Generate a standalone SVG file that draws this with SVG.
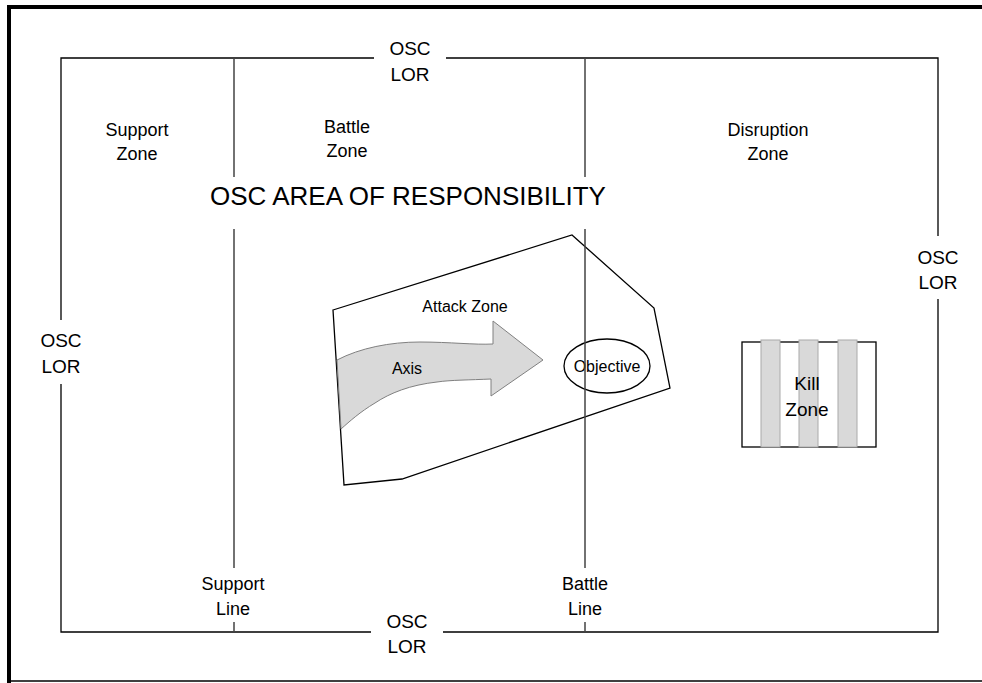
<svg xmlns="http://www.w3.org/2000/svg" width="982" height="683" viewBox="0 0 982 683">
<style>
.t{font-family:"Liberation Sans",Arial,sans-serif;fill:#000;text-anchor:middle}
.l{font-size:18px}
.o{font-size:19px}
.s{font-size:16px}
.ln{stroke:#000;stroke-width:1.3;fill:none}
.v{stroke:#444;stroke-width:1.5;fill:none}
</style>
<rect width="982" height="683" fill="#fff"/>
<g id="frame">
<line x1="7" y1="7" x2="982" y2="7" stroke="#000" stroke-width="4"/>
<line x1="9" y1="5" x2="9" y2="683" stroke="#000" stroke-width="4"/>
<line x1="7" y1="681" x2="982" y2="681" stroke="#000" stroke-width="1.5"/>
</g>
<g id="connectors">
<path class="ln" d="M61,320 V58 H374 M446,58 H938 V236 M938,299 V632 H443 M371,632 H61 V384"/>
<path class="v" d="M234,58 V177 M234,229 V568 M234,622 V632"/>
</g>
<g id="attack-zone">
<polygon points="333,310 572,235 654,308 670,388 402,479 344,485" fill="#fff" stroke="#000" stroke-width="1.3"/>
<path d="M337,360 C360,348 390,342 420,342 C450,342 475,345 493,344 L493,321 L543,360 L491,396 L491,379 C470,380 450,380 437,382 C410,385 390,393 375,403 C360,412 350,421 341,429 Z" fill="#d9d9d9" stroke="#808080" stroke-width="1"/>
<text class="t s" x="465" y="312">Attack Zone</text>
<text class="t s" x="407" y="374">Axis</text>
</g>
<g id="objective">
<ellipse cx="607" cy="366" rx="43" ry="27" fill="none" stroke="#000" stroke-width="1.3"/>
<text class="t s" x="607" y="372">Objective</text>
</g>
<g id="battle-line">
<path class="v" d="M585,58 V177 M585,229 V568 M585,622 V632"/>
</g>
<g id="kill-zone">
<rect x="742" y="342" width="134" height="105" fill="#fff" stroke="#000" stroke-width="1.3"/>
<rect x="761" y="340" width="19" height="107" fill="#d9d9d9" stroke="#aaa" stroke-width="1"/>
<rect x="799" y="340" width="19" height="107" fill="#d9d9d9" stroke="#aaa" stroke-width="1"/>
<rect x="838" y="340" width="19" height="107" fill="#d9d9d9" stroke="#aaa" stroke-width="1"/>
<text class="t o" x="807" y="390">Kill</text>
<text class="t o" x="807" y="416">Zone</text>
</g>
<g id="labels">
<text class="t o" x="410" y="55">OSC</text>
<text class="t o" x="410" y="81">LOR</text>
<text class="t o" x="61" y="347">OSC</text>
<text class="t o" x="61" y="373">LOR</text>
<text class="t o" x="938" y="264">OSC</text>
<text class="t o" x="938" y="289">LOR</text>
<text class="t o" x="407" y="628">OSC</text>
<text class="t o" x="407" y="653">LOR</text>
<text class="t l" x="137" y="136">Support</text>
<text class="t l" x="137" y="160">Zone</text>
<text class="t l" x="347" y="133">Battle</text>
<text class="t l" x="347" y="157">Zone</text>
<text class="t l" x="768" y="136">Disruption</text>
<text class="t l" x="768" y="160">Zone</text>
<text class="t" style="font-size:26px" x="408" y="205">OSC AREA OF RESPONSIBILITY</text>
<text class="t l" x="233" y="590">Support</text>
<text class="t l" x="233" y="615">Line</text>
<text class="t l" x="585" y="590">Battle</text>
<text class="t l" x="585" y="615">Line</text>
</g>
</svg>
